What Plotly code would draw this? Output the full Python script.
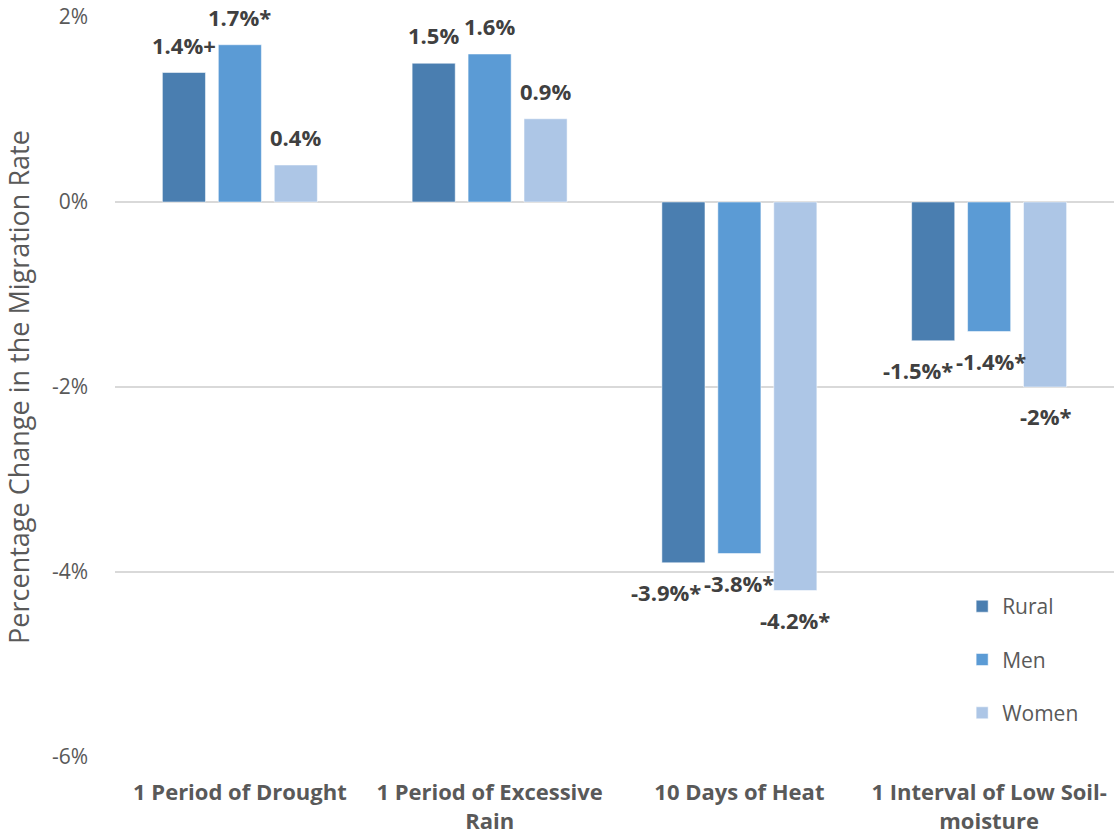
import plotly.graph_objects as go

categories = [
    "1 Period of Drought",
    "1 Period of Excessive<br>Rain",
    "10 Days of Heat",
    "1 Interval of Low Soil-<br>moisture",
]
series_names = ["Rural", "Men", "Women"]
rural = [1.4, 1.5, -3.9, -1.5]
men = [1.7, 1.6, -3.8, -1.4]
women = [0.4, 0.9, -4.2, -2.0]
rural_marks = ["+", "", "*", "*"]
men_marks = ["*", "", "*", "*"]
women_marks = ["", "", "*", "*"]
colors = ["#4a7eb0", "#5b9bd5", "#adc6e6"]
y_ticks = [2, 0, -2, -4, -6]

# figure geometry
W, H = 1114, 839
ML, MR, MT, MB = 115, 0, 17, 82
BARGAP, BARGROUPGAP = 0.328, 0.23

# horizontal nudges (px) that keep neighbouring value labels apart
label_nudge = [
    [0, 0, -17, -15],
    [0, 0, 0, 2],
    [0, 0, 0, 0],
]


def fmt(v, mark):
    s = f"{v:.0f}" if abs(v - round(v)) < 1e-9 else f"{v:.1f}"
    return f"{s}%{mark}"


fig = go.Figure()
all_vals = [rural, men, women]
all_marks = [rural_marks, men_marks, women_marks]
for name, vals, col in zip(series_names, all_vals, colors):
    fig.add_trace(go.Bar(
        name=name,
        x=categories,
        y=vals,
        marker=dict(color=col, line=dict(color="rgba(255,255,255,0.5)", width=1)),
        legendgroup=name,
    ))

# value labels placed over each bar of the group
plot_w = W - ML - MR
cat_w = plot_w / len(categories)
slot = cat_w * (1 - BARGAP) / len(series_names)
for k, (vals, marks) in enumerate(zip(all_vals, all_marks)):
    for i, (cat, v, m) in enumerate(zip(categories, vals, marks)):
        fig.add_annotation(
            x=cat, y=v, xref="x", yref="y",
            text=fmt(v, m),
            showarrow=False,
            xanchor="center", yanchor="middle",
            xshift=(k - 1) * slot + label_nudge[k][i],
            yshift=28 if v >= 0 else -29,
            font=dict(family="Open Sans", size=22, color="#404040", weight="bold"),
        )

fig.update_layout(
    width=W,
    height=H,
    margin=dict(l=ML, r=MR, t=MT, b=MB),
    plot_bgcolor="white",
    paper_bgcolor="white",
    barmode="group",
    bargap=BARGAP,
    bargroupgap=BARGROUPGAP,
    font=dict(family="Open Sans", color="#595959"),
    showlegend=True,
    legend=dict(
        x=0.848, y=0.231, xanchor="left", yanchor="top",
        font=dict(size=21, color="#595959"),
        tracegroupgap=23,
        bgcolor="rgba(0,0,0,0)",
    ),
    yaxis=dict(
        range=[-6, 2],
        tickvals=y_ticks,
        ticktext=[f"{t}%" for t in y_ticks],
        tickfont=dict(size=21, color="#595959"),
        showgrid=True,
        gridcolor="#d9d9d9",
        gridwidth=1.5,
        zeroline=True,
        zerolinecolor="#d9d9d9",
        zerolinewidth=1.5,
        ticks="",
        ticklabelstandoff=26,
        title=dict(text="Percentage Change in the Migration Rate",
                   font=dict(size=27, color="#595959"), standoff=14),
    ),
    xaxis=dict(
        tickfont=dict(size=22, color="#595959", weight="bold"),
        showgrid=False,
        showline=False,
        ticks="",
        ticklabelstandoff=20,
    ),
)

fig.write_html("out.html")
